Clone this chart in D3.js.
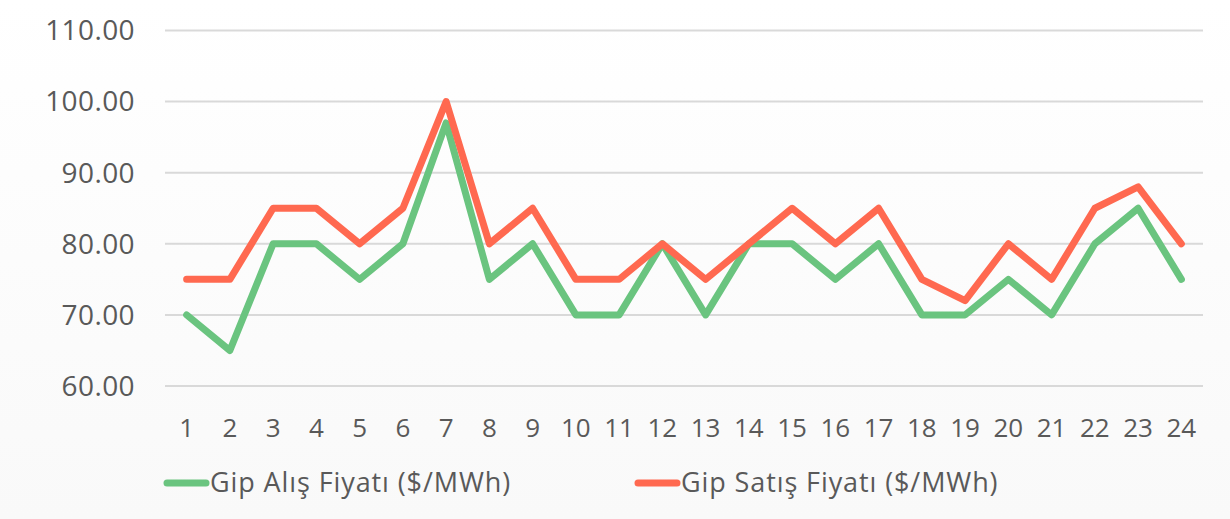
<!DOCTYPE html>
<html>
<head>
<meta charset="utf-8">
<script src="https://cdn.jsdelivr.net/npm/d3@7"></script>
<style>
  html, body { margin: 0; padding: 0; }
  body { width: 1230px; height: 519px; overflow: hidden; }
  text { font-family: "Open Sans", "DejaVu Sans", sans-serif; fill: #595959; }
</style>
</head>
<body>
<svg width="1230" height="519"></svg>
<script>
// data
const hours = d3.range(1, 25).map(String);
const alis = [70, 65, 80, 80, 75, 80, 97, 75, 80, 70, 70, 80, 70, 80, 80, 75, 80, 70, 70, 75, 70, 80, 85, 75];
const satis = [75, 75, 85, 85, 80, 85, 100, 80, 85, 75, 75, 80, 75, 80, 85, 80, 85, 75, 72, 80, 75, 85, 88, 80];
const yTicks = [60, 70, 80, 90, 100, 110];
const seriesNames = ["Gip Alış Fiyatı ($/MWh)", "Gip Satış Fiyatı ($/MWh)"];
const seriesColors = ["#6ac47f", "#ff6950"];

const svg = d3.select("svg");

// faint background fade
const defs = svg.append("defs");
const grad = defs.append("linearGradient")
  .attr("id", "bg").attr("x1", 0).attr("y1", 0).attr("x2", 0).attr("y2", 1);
grad.append("stop").attr("offset", "0%").attr("stop-color", "#ffffff");
grad.append("stop").attr("offset", "100%").attr("stop-color", "#f9f9f9");
svg.append("rect").attr("width", 1230).attr("height", 519).attr("fill", "url(#bg)");

const x = d3.scaleBand().domain(hours).range([165, 1203]);
const y = d3.scaleLinear().domain([60, 110]).range([386, 30.5]);

// gridlines
svg.append("g")
  .selectAll("line")
  .data(yTicks)
  .enter()
  .append("line")
  .attr("x1", 165)
  .attr("x2", 1203)
  .attr("y1", (d) => y(d))
  .attr("y2", (d) => y(d))
  .attr("stroke", "#d9d9d9")
  .attr("stroke-width", 2);

// y labels
svg.append("g")
  .selectAll("text")
  .data(yTicks)
  .enter()
  .append("text")
  .attr("x", 135)
  .attr("y", (d) => y(d))
  .attr("dy", "0.35em")
  .attr("text-anchor", "end")
  .style("font-size", "28px")
  .style("letter-spacing", "0.4px")
  .text((d) => d.toFixed(2));

// x labels
svg.append("g")
  .selectAll("text")
  .data(hours)
  .enter()
  .append("text")
  .attr("x", (d) => x(d) + x.bandwidth() / 2)
  .attr("y", 437)
  .attr("text-anchor", "middle")
  .style("font-size", "26px")
  .text((d) => d);

// lines
const line = d3.line()
  .x((d, i) => x(hours[i]) + x.bandwidth() / 2)
  .y((d) => y(d));

[alis, satis].forEach((vals, k) => {
  svg.append("path")
    .datum(vals)
    .attr("d", line)
    .attr("fill", "none")
    .attr("stroke", seriesColors[k])
    .attr("stroke-width", 7)
    .attr("stroke-linejoin", "round")
    .attr("stroke-linecap", "round");
});

// legend
const legendX = [167, 638];
const legend = svg.append("g")
  .selectAll("g")
  .data(seriesNames)
  .enter()
  .append("g")
  .attr("transform", (d, i) => `translate(${legendX[i]},483)`);

legend.append("line")
  .attr("x1", 0).attr("x2", 39)
  .attr("stroke", (d, i) => seriesColors[i])
  .attr("stroke-width", 7)
  .attr("stroke-linecap", "round");

legend.append("text")
  .attr("x", 43)
  .attr("dy", "0.35em")
  .style("font-size", "27px")
  .style("letter-spacing", "0.9px")
  .text((d) => d);
</script>
</body>
</html>
